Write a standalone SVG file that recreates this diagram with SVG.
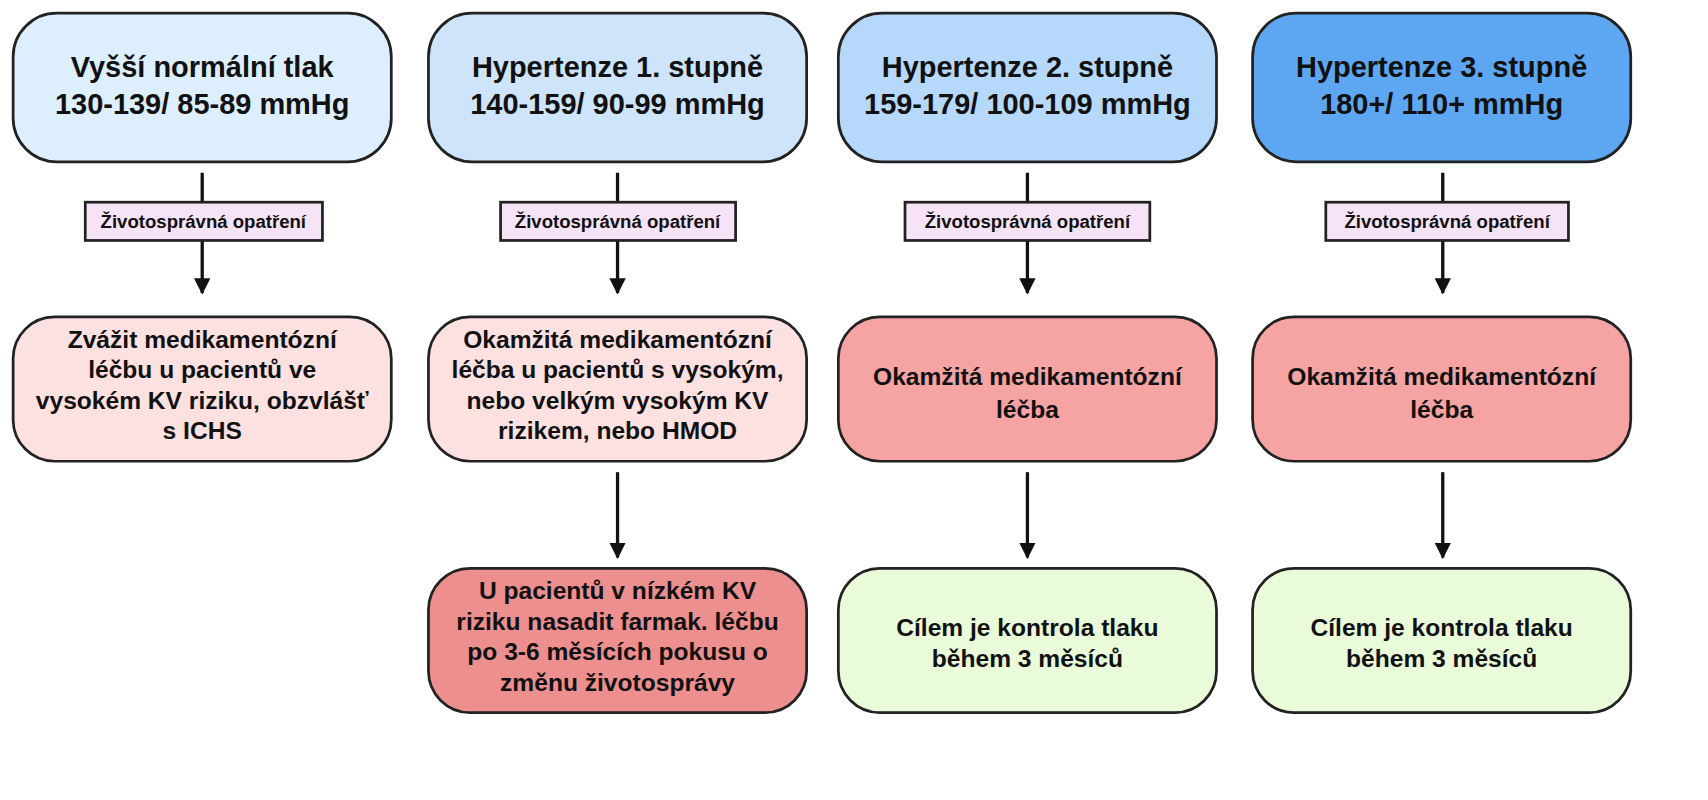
<svg xmlns="http://www.w3.org/2000/svg" width="1708" height="800" viewBox="0 0 1708 800">
<defs>
<style>
.b{stroke:#222;stroke-width:2.5}
.t{font-family:"Liberation Sans",Arial,sans-serif;font-weight:bold;fill:#111;text-anchor:middle}
.h{font-size:26.5px}
.m{font-size:22.5px}
.l{font-size:17px}
.c{stroke:#111;stroke-width:3;fill:none}
.lb{fill:#f7e3f7;stroke:#222;stroke-width:2.5}
</style>
<marker id="a" viewBox="0 0 10 10" refX="9" refY="5" markerWidth="5" markerHeight="5" orient="auto"><path d="M0,0L10,5L0,10z" fill="#111"/></marker>
</defs>
<rect width="1708" height="800" fill="#fff"/>
<g transform="scale(1.093)">
<g id="connectors">
<path class="c" d="M185,158V185M185,220V268" marker-end="url(#a)"/>
<path class="c" d="M565,158V185M565,220V268" marker-end="url(#a)"/>
<path class="c" d="M940,158V185M940,220V268" marker-end="url(#a)"/>
<path class="c" d="M1320,158V185M1320,220V268" marker-end="url(#a)"/>
<path class="c" d="M565,432V510" marker-end="url(#a)"/>
<path class="c" d="M940,432V510" marker-end="url(#a)"/>
<path class="c" d="M1320,432V510" marker-end="url(#a)"/>
<g>
<rect class="lb" x="78" y="185" width="217" height="35"/><text class="t l" x="186" y="209">Životosprávná opatření</text>
<rect class="lb" x="458" y="185" width="215" height="35"/><text class="t l" x="565" y="209">Životosprávná opatření</text>
<rect class="lb" x="828" y="185" width="224" height="35"/><text class="t l" x="940" y="209">Životosprávná opatření</text>
<rect class="lb" x="1213" y="185" width="222" height="35"/><text class="t l" x="1324" y="209">Životosprávná opatření</text>
</g>
</g>
<g id="n1"><rect class="b" x="12" y="12" width="346" height="136" rx="40" fill="#ddeefe"/><text class="t h" x="185" y="70">Vyšší normální tlak</text><text class="t h" x="185" y="104">130-139/ 85-89 mmHg</text></g>
<g id="n2"><rect class="b" x="392" y="12" width="346" height="136" rx="40" fill="#cde4fb"/><text class="t h" x="565" y="70">Hypertenze 1. stupně</text><text class="t h" x="565" y="104">140-159/ 90-99 mmHg</text></g>
<g id="n3"><rect class="b" x="767" y="12" width="346" height="136" rx="40" fill="#b6d8fb"/><text class="t h" x="940" y="70">Hypertenze 2. stupně</text><text class="t h" x="940" y="104">159-179/ 100-109 mmHg</text></g>
<g id="n4"><rect class="b" x="1146" y="12" width="346" height="136" rx="40" fill="#5da7f2"/><text class="t h" x="1319" y="70">Hypertenze 3. stupně</text><text class="t h" x="1319" y="104">180+/ 110+ mmHg</text></g>
<g id="n5"><rect class="b" x="12" y="290" width="346" height="132" rx="38" fill="#fde1e1"/><text class="t m" x="185" y="318">Zvážit medikamentózní</text><text class="t m" x="185" y="346">léčbu u pacientů ve</text><text class="t m" x="185" y="374">vysokém KV riziku, obzvlášť</text><text class="t m" x="185" y="402">s ICHS</text></g>
<g id="n6"><rect class="b" x="392" y="290" width="346" height="132" rx="38" fill="#fde1e1"/><text class="t m" x="565" y="318">Okamžitá medikamentózní</text><text class="t m" x="565" y="346">léčba u pacientů s vysokým,</text><text class="t m" x="565" y="374">nebo velkým vysokým KV</text><text class="t m" x="565" y="402">rizikem, nebo HMOD</text></g>
<g id="n7"><rect class="b" x="767" y="290" width="346" height="132" rx="38" fill="#f6a3a3"/><text class="t m" x="940" y="352">Okamžitá medikamentózní</text><text class="t m" x="940" y="382">léčba</text></g>
<g id="n8"><rect class="b" x="1146" y="290" width="346" height="132" rx="38" fill="#f6a3a3"/><text class="t m" x="1319" y="352">Okamžitá medikamentózní</text><text class="t m" x="1319" y="382">léčba</text></g>
<g id="n9"><rect class="b" x="392" y="520" width="346" height="132" rx="38" fill="#ee8f8f"/><text class="t m" x="565" y="548">U pacientů v nízkém KV</text><text class="t m" x="565" y="576">riziku nasadit farmak. léčbu</text><text class="t m" x="565" y="604">po 3-6 měsících pokusu o</text><text class="t m" x="565" y="632">změnu životosprávy</text></g>
<g id="n10"><rect class="b" x="767" y="520" width="346" height="132" rx="38" fill="#e9fbd9"/><text class="t m" x="940" y="582">Cílem je kontrola tlaku</text><text class="t m" x="940" y="610">během 3 měsíců</text></g>
<g id="n11"><rect class="b" x="1146" y="520" width="346" height="132" rx="38" fill="#e9fbd9"/><text class="t m" x="1319" y="582">Cílem je kontrola tlaku</text><text class="t m" x="1319" y="610">během 3 měsíců</text></g>
</g>
</svg>
